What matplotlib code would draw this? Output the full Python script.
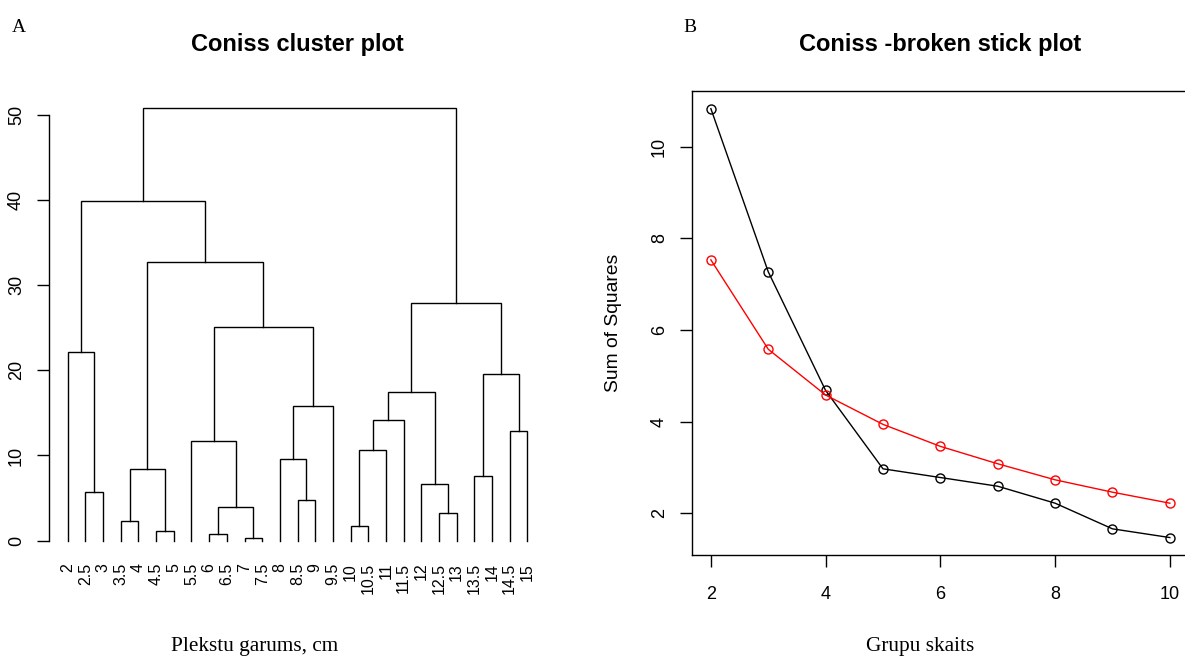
import matplotlib
matplotlib.use("Agg")
import matplotlib.pyplot as plt

plt.rcParams['font.family'] = ['Liberation Sans', 'DejaVu Sans']

# --- dendrogram data (R style merge matrix: negative = leaf, positive = earlier merge) ---
leaf_labels = ["2", "2.5", "3", "3.5", "4", "4.5", "5", "5.5", "6", "6.5", "7", "7.5",
               "8", "8.5", "9", "9.5", "10", "10.5", "11", "11.5", "12", "12.5", "13",
               "13.5", "14", "14.5", "15"]
merge_a = [-11, -9, -6, -17, -4, -22, 2, -14, -2, -21, -24, 5, -13,
           4, -8, -26, 14, 13, 17, 11, -1, 15, 19, 12, 21, 25]
merge_b = [-12, -10, -7, -18, -5, -23, 1, -15, -3, 6, -25, 3, 8,
           -19, 7, -27, -20, -16, 10, 16, 9, 18, 20, 22, 24, 23]
merge_h = [0.34, 0.75, 1.17, 1.76, 2.35, 3.2, 3.98, 4.8, 5.66, 6.6, 7.55, 8.47, 9.56,
           10.6, 11.7, 12.9, 14.2, 15.8, 17.4, 19.6, 22.1, 25.1, 27.9, 32.7, 39.9, 50.8]

# --- broken stick data ---
n_groups = [2, 3, 4, 5, 6, 7, 8, 9, 10]
ss_coniss = [10.83, 7.27, 4.68, 2.97, 2.78, 2.59, 2.22, 1.66, 1.47]
ss_bstick = [7.53, 5.58, 4.58, 3.94, 3.46, 3.08, 2.73, 2.46, 2.22]

fig = plt.figure(figsize=(11.85, 6.57), dpi=100)

# ---------------- panel A ----------------
ax1 = fig.add_axes([0.0416, 0.1507, 0.419, 0.7116])
node_x = {}
node_h = {}

def pos(k):
    if k < 0:
        return -k, 0.0
    return node_x[k], node_h[k]

for i, (a, b, h) in enumerate(zip(merge_a, merge_b, merge_h), start=1):
    xa, ha = pos(a)
    xb, hb = pos(b)
    ax1.plot([xa, xa, xb, xb], [ha, h, h, hb], color='black', lw=1.0, solid_joinstyle='miter')
    node_x[i] = (xa + xb) / 2
    node_h[i] = h

ax1.set_xlim(-0.04, 28.04)
ax1.set_ylim(-2.03, 52.83)
for s in ['top', 'right', 'bottom']:
    ax1.spines[s].set_visible(False)
ax1.spines['left'].set_bounds(0, 50)
ax1.spines['left'].set_linewidth(1.0)
ax1.set_yticks(range(0, 51, 10))
ax1.set_yticklabels([str(v) for v in range(0, 51, 10)], rotation=90, va='center', fontsize=13)
ax1.tick_params(axis='y', direction='out', length=8.5, width=1.0, pad=9)
ax1.set_xticks(range(1, len(leaf_labels) + 1))
ax1.set_xticklabels(leaf_labels, rotation=90, fontsize=11.5)
ax1.tick_params(axis='x', length=0, pad=3.5)
fig.text(297 / 1185, 1 - 44.5 / 657, "Coniss cluster plot", ha='center', va='center',
         fontsize=17, fontweight='bold')
fig.text(12 / 1185, 1 - 27 / 657, "A", ha='left', va='center', fontsize=14,
         family='Liberation Serif')
fig.text(255 / 1185, 1 - 646 / 657, "Plekstu garums, cm", ha='center', va='center',
         fontsize=15.3, family='Liberation Serif')

# ---------------- panel B ----------------
ax2 = fig.add_axes([0.5842, 0.1553, 0.4187, 0.7062])
ax2.plot(n_groups, ss_coniss, color='black', lw=1.0, marker='o', markersize=6.5,
         markerfacecolor='none', markeredgewidth=1.0)
ax2.plot(n_groups, ss_bstick, color='red', lw=1.0, marker='o', markersize=6.5,
         markerfacecolor='none', markeredgewidth=1.0)
ax2.set_xlim(1.676, 10.324)
ax2.set_ylim(1.09, 11.215)
for s in ax2.spines.values():
    s.set_linewidth(1.0)
ax2.set_xticks([2, 4, 6, 8, 10])
ax2.set_xticklabels(["2", "4", "6", "8", "10"], fontsize=13)
ax2.set_yticks([2, 4, 6, 8, 10])
ax2.set_yticklabels(["2", "4", "6", "8", "10"], rotation=90, va='center', fontsize=13)
ax2.tick_params(axis='y', direction='out', length=8.5, width=1.0, pad=9)
ax2.tick_params(axis='x', direction='out', length=8.5, width=1.0, pad=14)
fig.text(613 / 1185, 1 - 323 / 657, "Sum of Squares", rotation=90, ha='center', va='center',
         fontsize=13.9)
fig.text(940 / 1185, 1 - 44.5 / 657, "Coniss -broken stick plot", ha='center', va='center',
         fontsize=17, fontweight='bold')
fig.text(683 / 1185, 1 - 27 / 657, "B", ha='left', va='center', fontsize=14,
         family='Liberation Serif')
fig.text(920 / 1185, 1 - 646 / 657, "Grupu skaits", ha='center', va='center',
         fontsize=15.3, family='Liberation Serif')

fig.savefig("out.png", dpi=100)
